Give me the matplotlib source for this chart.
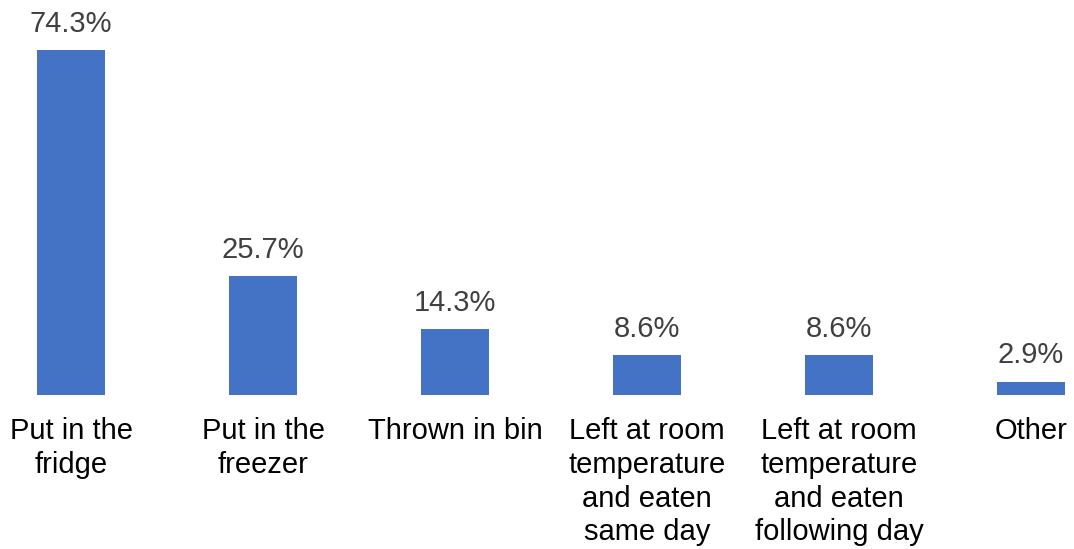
import matplotlib.pyplot as plt

plt.rcParams['font.family'] = ['Liberation Sans', 'DejaVu Sans']

# what happens to leftovers
categories = ['Put in the\nfridge', 'Put in the\nfreezer', 'Thrown in bin',
              'Left at room\ntemperature\nand eaten\nsame day',
              'Left at room\ntemperature\nand eaten\nfollowing day',
              'Other']
shares = [74.3, 25.7, 14.3, 8.6, 8.6, 2.9]
share_labels = ['74.3%', '25.7%', '14.3%', '8.6%', '8.6%', '2.9%']

fig = plt.figure(figsize=(10.74, 5.49), dpi=100)
# axes box: baseline sits at 395px from top, bars every 192px
ax = fig.add_axes([32.6/1074, (549-395)/549, (1069.4-32.6)/1074, 395/549])

x = list(range(len(categories)))
ax.bar(x, shares, width=0.35, color='#4472C4')

for xi, val, lab in zip(x, shares, share_labels):
    ax.annotate(lab, (xi, val), xytext=(0, 13), textcoords='offset points',
                ha='center', va='baseline', fontsize=21, color='#404040')

ax.set_xlim(-0.2, 5.2)
ax.set_ylim(0, 85.07)
ax.set_xticks(x)
ax.set_xticklabels(categories, fontsize=21, color='black', linespacing=1.26)
ax.tick_params(axis='x', length=0, pad=16)
ax.set_yticks([])
for s in ax.spines.values():
    s.set_visible(False)

fig.savefig('out.png', dpi=100)
